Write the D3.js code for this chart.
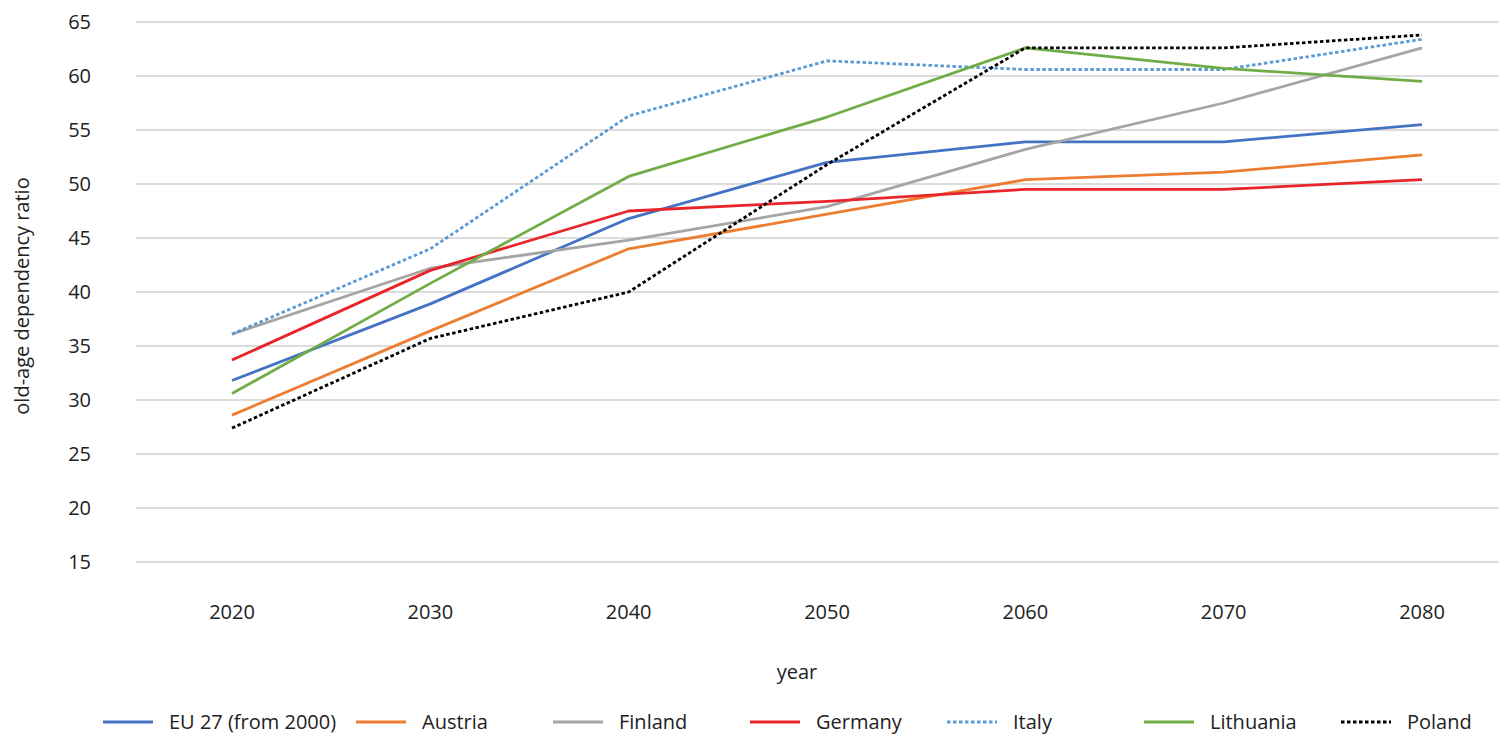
<!DOCTYPE html>
<html>
<head>
<meta charset="utf-8">
<script src="https://cdn.jsdelivr.net/npm/d3@7"></script>
<style>
body { margin: 0; background: #fff; }
text { font-family: "Open Sans", sans-serif; fill: #222; }
</style>
</head>
<body>
<svg id="chart" width="1499" height="735"></svg>
<script>
// years on the x axis
const years = ["2020", "2030", "2040", "2050", "2060", "2070", "2080"];
const yTicks = [15, 20, 25, 30, 35, 40, 45, 50, 55, 60, 65];

// old-age dependency ratio
const eu27      = [31.8, 38.9, 46.8, 52.0, 53.9, 53.9, 55.5];
const austria   = [28.6, 36.4, 44.0, 47.2, 50.4, 51.1, 52.7];
const finland   = [36.1, 42.2, 44.8, 47.9, 53.2, 57.5, 62.6];
const germany   = [33.7, 42.0, 47.5, 48.4, 49.5, 49.5, 50.4];
const italy     = [36.1, 44.0, 56.3, 61.4, 60.6, 60.6, 63.4];
const lithuania = [30.6, 40.8, 50.7, 56.2, 62.6, 60.7, 59.5];
const poland    = [27.4, 35.7, 40.0, 51.8, 62.6, 62.6, 63.8];

const seriesNames = ["EU 27 (from 2000)", "Austria", "Finland", "Germany", "Italy", "Lithuania", "Poland"];
const seriesValues = [eu27, austria, finland, germany, italy, lithuania, poland];
const seriesColors = ["#4472c4", "#ed7d31", "#a5a5a5", "#e8252b", "#5b9bd5", "#70ad47", "#000000"];
const seriesDotted = [false, false, false, false, true, false, true];

const svg = d3.select("#chart");

const x = d3.scalePoint()
    .domain(years)
    .range([232, 1422]);

const y = d3.scaleLinear()
    .domain([15, 65])
    .range([562, 22]);

// gridlines
svg.append("g")
    .selectAll("line")
    .data(yTicks)
    .join("line")
    .attr("x1", 136)
    .attr("x2", 1499)
    .attr("y1", d => y(d))
    .attr("y2", d => y(d))
    .attr("stroke", "#d0d0d0")
    .attr("stroke-width", 1.6);

// y tick labels
svg.append("g")
    .selectAll("text")
    .data(yTicks)
    .join("text")
    .attr("x", 91)
    .attr("y", d => y(d) + 7)
    .attr("text-anchor", "end")
    .style("font-size", "20px")
    .text(d => d);

// x tick labels
svg.append("g")
    .selectAll("text")
    .data(years)
    .join("text")
    .attr("x", d => x(d))
    .attr("y", 619)
    .attr("text-anchor", "middle")
    .style("font-size", "20px")
    .text(d => d);

// axis titles
svg.append("text")
    .attr("x", 797)
    .attr("y", 679)
    .attr("text-anchor", "middle")
    .style("font-size", "20px")
    .text("year");

svg.append("text")
    .attr("transform", "translate(29,296) rotate(-90)")
    .attr("text-anchor", "middle")
    .style("font-size", "20px")
    .text("old-age dependency ratio");

// lines
const line = d3.line()
    .x((d, i) => x(years[i]))
    .y(d => y(d));

svg.append("g")
    .selectAll("path")
    .data(seriesValues)
    .join("path")
    .attr("d", d => line(d))
    .attr("fill", "none")
    .attr("stroke", (d, i) => seriesColors[i])
    .attr("stroke-width", 2.8)
    .attr("stroke-linejoin", "round")
    .attr("stroke-dasharray", (d, i) => seriesDotted[i] ? "3.5,2.5" : null);

// legend, first entry is wider than the others
let legend = svg.append("g")
    .selectAll("g")
    .data(seriesNames)
    .join("g")
    .attr("transform", (d, i) => "translate(" + (i == 0 ? 103 : 356 + (i - 1) * 197) + ",722)");

legend.append("line")
    .attr("x1", 0)
    .attr("x2", 50)
    .attr("stroke", (d, i) => seriesColors[i])
    .attr("stroke-width", 2.8)
    .attr("stroke-dasharray", (d, i) => seriesDotted[i] ? "3.5,2.5" : null);

legend.append("text")
    .attr("x", 66)
    .attr("y", 7)
    .style("font-size", "20px")
    .text(d => d);
</script>
</body>
</html>
